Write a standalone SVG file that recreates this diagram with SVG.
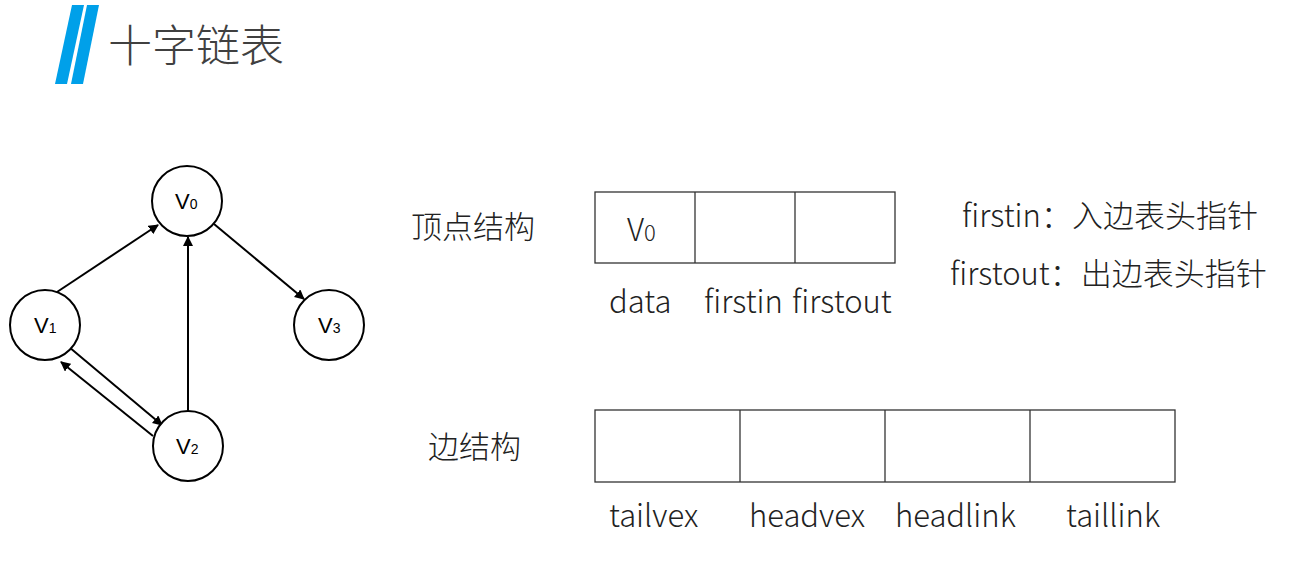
<svg xmlns="http://www.w3.org/2000/svg" width="1306" height="582" viewBox="0 0 1306 582">
<defs>
<marker id="a" viewBox="0 0 10 10" refX="9" refY="5" markerWidth="10" markerHeight="10" markerUnits="userSpaceOnUse" orient="auto"><path d="M0,0L10,5L0,10z" fill="#000"/></marker>
<style>
.n{fill:#fff;stroke:#000;stroke-width:2}
.v{font-family:"Liberation Sans",Arial,sans-serif;font-size:22px;fill:#000}
.s{font-size:14px}
.t{font-family:"Noto Sans CJK SC","Liberation Sans",sans-serif;font-size:31px;fill:#222;font-weight:300}
.b{fill:none;stroke:#333;stroke-width:1.3}
.c line{stroke:#000;stroke-width:2;marker-end:url(#a)}
</style>
</defs>
<rect width="1306" height="582" fill="#fff"/>
<polygon points="72,5 84,5 67,84 55,84" fill="#00a0e9"/>
<polygon points="87,5 99,5 83,84 71,84" fill="#00a0e9"/>
<text x="108" y="62" font-family="Noto Sans CJK SC,sans-serif" font-size="44" font-weight="300" fill="#404040">十字链表</text>
<g class="c">
<line x1="57" y1="292" x2="158" y2="225"/>
<line x1="214" y1="224" x2="304" y2="299"/>
<line x1="188" y1="416" x2="188" y2="237"/>
<line x1="69" y1="347" x2="162" y2="425"/>
<line x1="153" y1="436" x2="61" y2="362"/>
</g>
<g id="v0"><circle class="n" cx="187" cy="201" r="35"/><text class="v" x="175" y="209">V<tspan class="s">0</tspan></text></g>
<g id="v1"><circle class="n" cx="45" cy="325" r="35"/><text class="v" x="34" y="333">V<tspan class="s">1</tspan></text></g>
<g id="v2"><circle class="n" cx="188" cy="446" r="35"/><text class="v" x="176" y="454">V<tspan class="s">2</tspan></text></g>
<g id="v3"><circle class="n" cx="329" cy="325" r="35"/><text class="v" x="318" y="333">V<tspan class="s">3</tspan></text></g>
<g id="vertex">
<text class="t" x="411" y="238">顶点结构</text>
<rect class="b" x="595" y="192" width="300" height="71"/>
<line class="b" x1="695" y1="192" x2="695" y2="263"/><line class="b" x1="795" y1="192" x2="795" y2="263"/>
<text class="t" x="627" y="241">V<tspan font-size="22">0</tspan></text>
<text class="t" x="609" y="313">data</text>
<text class="t" x="704" y="313">firstin</text>
<text class="t" x="792" y="313">firstout</text>
<text class="t" x="962" y="227">firstin：入边表头指针</text>
<text class="t" x="950" y="285">firstout：出边表头指针</text>
</g>
<g id="edge">
<text class="t" x="428" y="458">边结构</text>
<rect class="b" x="595" y="410" width="580" height="72"/>
<line class="b" x1="740" y1="410" x2="740" y2="482"/><line class="b" x1="885" y1="410" x2="885" y2="482"/><line class="b" x1="1030" y1="410" x2="1030" y2="482"/>
<text class="t" x="609" y="527">tailvex</text>
<text class="t" x="749" y="527">headvex</text>
<text class="t" x="895" y="527">headlink</text>
<text class="t" x="1066" y="527">taillink</text>
</g>
</svg>
